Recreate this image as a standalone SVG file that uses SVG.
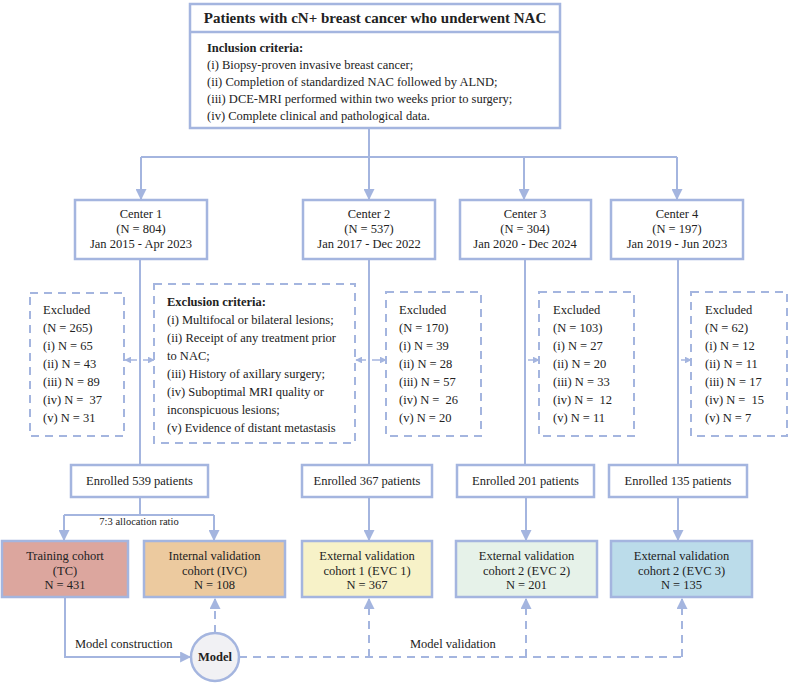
<svg xmlns="http://www.w3.org/2000/svg" width="790" height="684" viewBox="0 0 790 684">
<style>
text{font-family:"Liberation Serif","Times New Roman",serif;font-size:12.5px;fill:#222;white-space:pre}
.c{text-anchor:middle}
.b{font-weight:bold}
.box{fill:#fff;stroke:#A4B5DF;stroke-width:2.5}
.dbox{fill:#fff;stroke:#A4B5DF;stroke-width:2;stroke-dasharray:8 6}
.ln{fill:none;stroke:#A4B5DF;stroke-width:2}
.dl{fill:none;stroke:#A4B5DF;stroke-width:2;stroke-dasharray:8 6}
.sm{fill:none;stroke:#A4B5DF;stroke-width:1.5}
</style>
<defs>
<marker id="ah" viewBox="0 0 10 10" refX="9" refY="5" markerWidth="5.5" markerHeight="5.5" orient="auto" markerUnits="strokeWidth"><path d="M0,0 L10,5 L0,10 z" fill="#A4B5DF"/></marker>
<marker id="as" viewBox="0 0 10 10" refX="9" refY="5" markerWidth="4.5" markerHeight="4.5" orient="auto" markerUnits="strokeWidth"><path d="M0,0 L10,5 L0,10 z" fill="#A4B5DF"/></marker>
</defs>
<g id="connectors">
<path class="ln" d="M369,128 V157 M141,157 H677"/>
<path class="ln" d="M141,157 V199" marker-end="url(#ah)"/>
<path class="ln" d="M369,157 V199" marker-end="url(#ah)"/>
<path class="ln" d="M524,157 V199" marker-end="url(#ah)"/>
<path class="ln" d="M677,157 V199" marker-end="url(#ah)"/>
<path class="ln" d="M140,259 V465 M369,259 V465 M525,259 V465 M678,259 V465"/>
<path class="sm" d="M137,360 H125" marker-end="url(#as)"/>
<path class="sm" d="M143,360 H154" marker-end="url(#as)"/>
<path class="sm" d="M366,360 H356" marker-end="url(#as)"/>
<path class="sm" d="M372,360 H386" marker-end="url(#as)"/>
<path class="sm" d="M528,360 H539" marker-end="url(#as)"/>
<path class="sm" d="M681,360 H691" marker-end="url(#as)"/>
<path class="ln" d="M140,497 V515 M64,515 H214"/>
<path class="ln" d="M64,515 V540" marker-end="url(#ah)"/>
<path class="ln" d="M214,515 V540" marker-end="url(#ah)"/>
<path class="ln" d="M369,497 V540" marker-end="url(#ah)"/>
<path class="ln" d="M526,497 V540" marker-end="url(#ah)"/>
<path class="ln" d="M678,497 V540" marker-end="url(#ah)"/>
<path class="ln" d="M65,597 V657 H190" marker-end="url(#ah)"/>
<path class="dl" d="M215,633 V599" marker-end="url(#ah)"/>
<path class="dl" d="M239,657 H682"/>
<path class="dl" d="M369,657 V599" marker-end="url(#ah)"/>
<path class="dl" d="M526,657 V599" marker-end="url(#ah)"/>
<path class="dl" d="M682,657 V599" marker-end="url(#ah)"/>
<text x="139" y="525" class="c" style="font-size:10.5px">7:3 allocation ratio</text>
<text x="75" y="648">Model construction</text>
<text x="410" y="648">Model validation</text>
</g>
<g id="top">
<rect class="box" x="190" y="4" width="370" height="124"/>
<line class="ln" x1="190" y1="32" x2="560" y2="32" style="stroke-width:2.5"/>
<text x="375" y="23" class="c b" style="font-size:15px">Patients with cN+ breast cancer who underwent NAC</text>
<text x="207" y="52" class="b">Inclusion criteria:</text>
<text x="207" y="69">(i) Biopsy-proven invasive breast cancer;</text>
<text x="207" y="86">(ii) Completion of standardized NAC followed by ALND;</text>
<text x="207" y="103">(iii) DCE-MRI performed within two weeks prior to surgery;</text>
<text x="207" y="120">(iv) Complete clinical and pathological data.</text>
</g>
<g id="center1">
<rect class="box" x="75" y="200" width="132" height="59"/>
<text x="141" y="218" class="c">Center 1</text>
<text x="141" y="233" class="c">(N = 804)</text>
<text x="141" y="248" class="c">Jan 2015 - Apr 2023</text>
</g>
<g id="center2">
<rect class="box" x="303" y="200" width="132" height="59"/>
<text x="369" y="218" class="c">Center 2</text>
<text x="369" y="233" class="c">(N = 537)</text>
<text x="369" y="248" class="c">Jan 2017 - Dec 2022</text>
</g>
<g id="center3">
<rect class="box" x="460" y="200" width="131" height="59"/>
<text x="525" y="218" class="c">Center 3</text>
<text x="525" y="233" class="c">(N = 304)</text>
<text x="525" y="248" class="c">Jan 2020 - Dec 2024</text>
</g>
<g id="center4">
<rect class="box" x="611" y="200" width="132" height="59"/>
<text x="677" y="218" class="c">Center 4</text>
<text x="677" y="233" class="c">(N = 197)</text>
<text x="677" y="248" class="c">Jan 2019 - Jun 2023</text>
</g>
<g id="excluded1">
<rect class="dbox" x="30" y="293" width="94" height="143"/>
<text x="43" y="314">Excluded</text>
<text x="43" y="332">(N = 265)</text>
<text x="43" y="350">(i) N = 65</text>
<text x="43" y="368">(ii) N = 43</text>
<text x="43" y="386">(iii) N = 89</text>
<text x="43" y="404">(iv) N =  37</text>
<text x="43" y="422">(v) N = 31</text>
</g>
<g id="exclusion-criteria">
<rect class="dbox" x="154" y="284" width="201" height="159"/>
<text x="167" y="306" class="b">Exclusion criteria:</text>
<text x="167" y="324">(i) Multifocal or bilateral lesions;</text>
<text x="167" y="342">(ii) Receipt of any treatment prior</text>
<text x="167" y="360">to NAC;</text>
<text x="167" y="378">(iii) History of axillary surgery;</text>
<text x="167" y="396">(iv) Suboptimal MRI quality or</text>
<text x="167" y="414">inconspicuous lesions;</text>
<text x="167" y="432">(v) Evidence of distant metastasis</text>
</g>
<g id="excluded2">
<rect class="dbox" x="386" y="292" width="95" height="144"/>
<text x="399" y="314">Excluded</text>
<text x="399" y="332">(N = 170)</text>
<text x="399" y="350">(i) N = 39</text>
<text x="399" y="368">(ii) N = 28</text>
<text x="399" y="386">(iii) N = 57</text>
<text x="399" y="404">(iv) N =  26</text>
<text x="399" y="422">(v) N = 20</text>
</g>
<g id="excluded3">
<rect class="dbox" x="539" y="292" width="95" height="144"/>
<text x="553" y="314">Excluded</text>
<text x="553" y="332">(N = 103)</text>
<text x="553" y="350">(i) N = 27</text>
<text x="553" y="368">(ii) N = 20</text>
<text x="553" y="386">(iii) N = 33</text>
<text x="553" y="404">(iv) N =  12</text>
<text x="553" y="422">(v) N = 11</text>
</g>
<g id="excluded4">
<rect class="dbox" x="691" y="292" width="96" height="144"/>
<text x="705" y="314">Excluded</text>
<text x="705" y="332">(N = 62)</text>
<text x="705" y="350">(i) N = 12</text>
<text x="705" y="368">(ii) N = 11</text>
<text x="705" y="386">(iii) N = 17</text>
<text x="705" y="404">(iv) N =  15</text>
<text x="705" y="422">(v) N = 7</text>
</g>
<g id="enrolled1">
<rect class="box" x="71" y="465" width="137" height="32"/>
<text x="139.5" y="485" class="c">Enrolled 539 patients</text>
</g>
<g id="enrolled2">
<rect class="box" x="302" y="465" width="130" height="32"/>
<text x="367" y="485" class="c">Enrolled 367 patients</text>
</g>
<g id="enrolled3">
<rect class="box" x="457" y="465" width="137" height="32"/>
<text x="525.5" y="485" class="c">Enrolled 201 patients</text>
</g>
<g id="enrolled4">
<rect class="box" x="609" y="465" width="138" height="32"/>
<text x="678" y="485" class="c">Enrolled 135 patients</text>
</g>
<g id="tc">
<rect class="box" x="2" y="541" width="126" height="56" style="fill:#DCA69E"/>
<text x="65" y="560" class="c">Training cohort</text>
<text x="65" y="575" class="c">(TC)</text>
<text x="65" y="589" class="c">N = 431</text>
</g>
<g id="ivc">
<rect class="box" x="144" y="541" width="141" height="56" style="fill:#ECCA9F"/>
<text x="214.5" y="560" class="c">Internal validation</text>
<text x="214.5" y="575" class="c">cohort (IVC)</text>
<text x="214.5" y="589" class="c">N = 108</text>
</g>
<g id="evc1">
<rect class="box" x="302" y="541" width="130" height="56" style="fill:#F7F2C8"/>
<text x="367" y="560" class="c">External validation</text>
<text x="367" y="575" class="c">cohort 1 (EVC 1)</text>
<text x="367" y="589" class="c">N = 367</text>
</g>
<g id="evc2">
<rect class="box" x="456" y="541" width="141" height="56" style="fill:#E6F2E9"/>
<text x="526.5" y="560" class="c">External validation</text>
<text x="526.5" y="575" class="c">cohort 2 (EVC 2)</text>
<text x="526.5" y="589" class="c">N = 201</text>
</g>
<g id="evc3">
<rect class="box" x="611" y="541" width="141" height="56" style="fill:#BBDCEA"/>
<text x="681.5" y="560" class="c">External validation</text>
<text x="681.5" y="575" class="c">cohort 2 (EVC 3)</text>
<text x="681.5" y="589" class="c">N = 135</text>
</g>
<g id="model">
<circle cx="215" cy="657" r="24" style="fill:#F1F1F4;stroke:#A4B5DF;stroke-width:2.5"/>
<text x="215" y="661" class="c b">Model</text>
</g>
</svg>
